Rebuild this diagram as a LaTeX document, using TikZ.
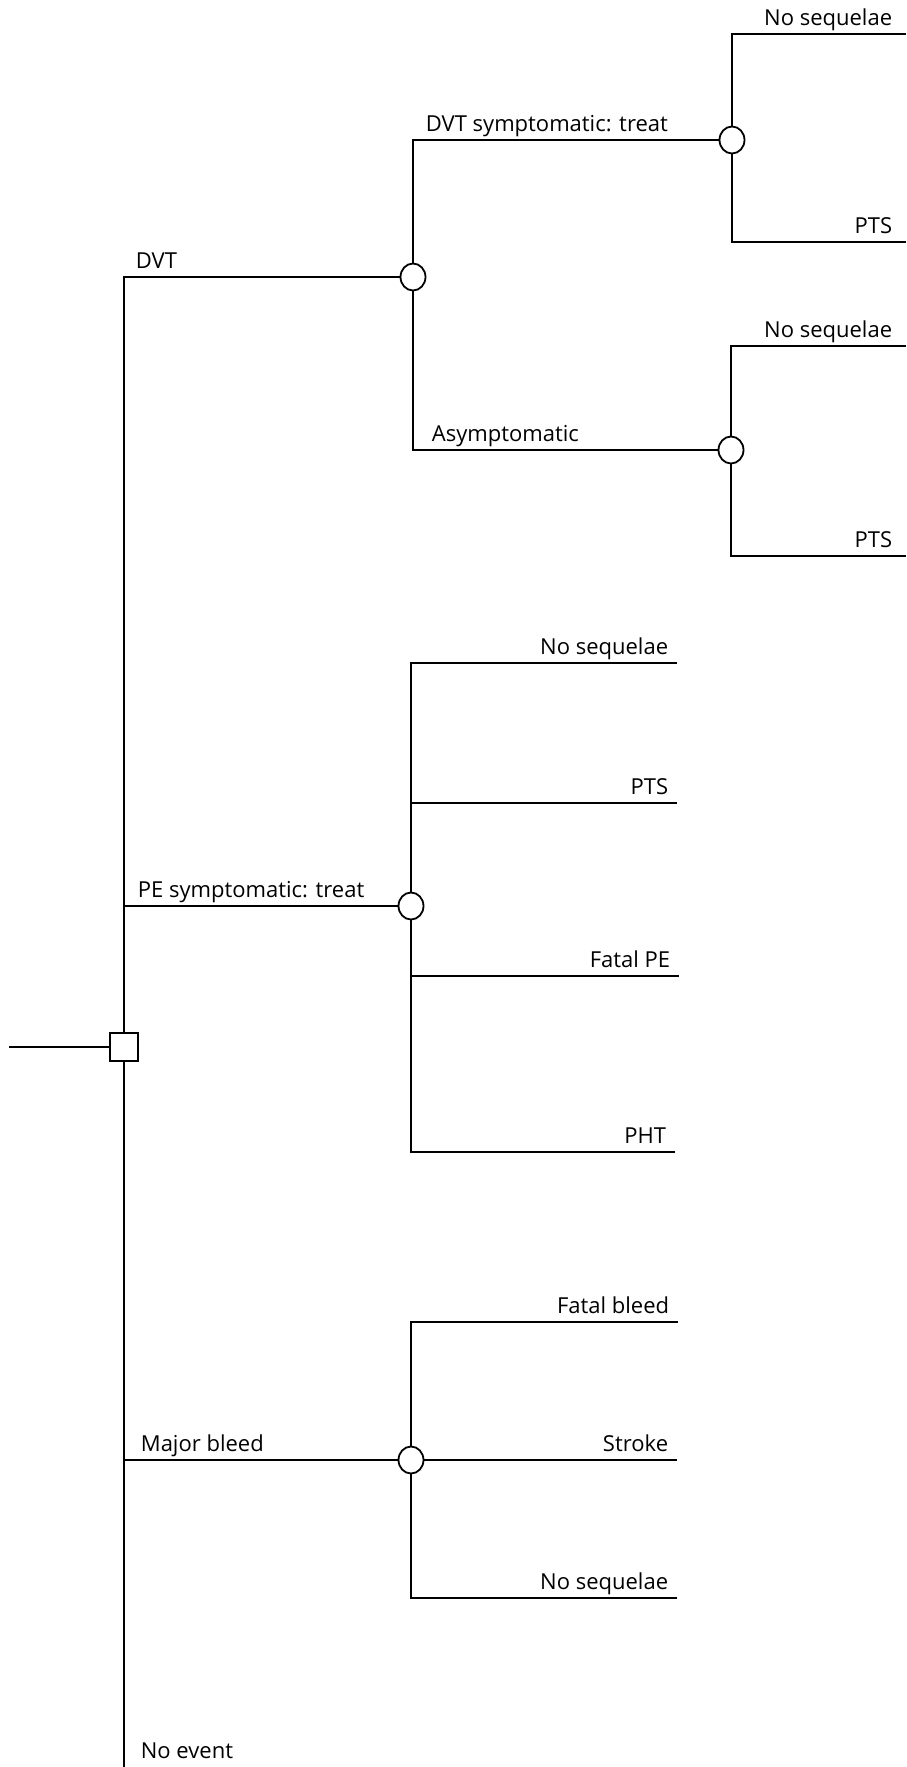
\documentclass[tikz,border=0pt]{standalone}
\usepackage{fontspec}
\setmainfont{Open Sans}
\usetikzlibrary{shapes.geometric}

\begin{document}
\begin{tikzpicture}[x=1pt,y=-1pt,line width=1.8pt,font=\fontsize{22}{26}\selectfont]

	\tikzset{node choice/.style={rectangle, draw, fill=white,
			minimum size=28pt, inner sep=0pt}}
	\tikzset{node chance/.style={ellipse, draw, fill=white,
			minimum width=25pt, minimum height=27pt, inner sep=0pt}}
	\tikzset{lbl branch/.style={anchor=base west, inner sep=0pt,
			pos=0.5, xshift=12pt, yshift=9pt}}
	\tikzset{lbl leaf/.style={anchor=base east, inner sep=0pt,
			xshift=-8pt, yshift=9pt}}

	\useasboundingbox (0,0) rectangle (906,1767);

	% decision node and chance nodes
	\coordinate (R) at (9,1047);
	\node[node choice] (D) at (124,1047) {};
	\node[node chance] (DVT) at (413,277) {};
	\node[node chance] (DVTs) at (732,140) {};
	\node[node chance] (DVTa) at (731,450) {};
	\node[node chance] (PE) at (411,906) {};
	\node[node chance] (MB) at (411,1460) {};
	\coordinate (NE) at (124,1767);

	% terminal ends
	\coordinate (DVTs1) at (906,34);
	\coordinate (DVTs2) at (906,242);
	\coordinate (DVTa1) at (906,346);
	\coordinate (DVTa2) at (906,556);
	\coordinate (PE1) at (677,663);
	\coordinate (PE2) at (677,803);
	\coordinate (PE3) at (679,976);
	\coordinate (PE4) at (675,1152);
	\coordinate (MB1) at (678,1322);
	\coordinate (MB2) at (677,1460);
	\coordinate (MB3) at (677,1598);

	\draw
	(R) -- (D)
	(D) |- (DVT)	node[lbl branch, xshift=-1pt] {DVT}
	(D) |- (PE)	node[lbl branch, xshift=1pt] {PE symptomatic: treat}
	(D) |- (MB)	node[lbl branch, xshift=4pt] {Major bleed}
	(D) -- (NE)	node[anchor=base west, inner sep=0pt, xshift=16pt, yshift=9pt] {No event};

	\draw
	(DVT) |- (DVTs)	node[lbl branch] {DVT symptomatic: treat}
	(DVT) |- (DVTa)	node[lbl branch, xshift=6pt] {Asymptomatic}
	(DVTs) |- (DVTs1)	node[lbl leaf, xshift=-5pt] {No sequelae}
	(DVTs) |- (DVTs2)	node[lbl leaf, xshift=-5pt] {PTS}
	(DVTa) |- (DVTa1)	node[lbl leaf, xshift=-5pt] {No sequelae}
	(DVTa) |- (DVTa2)	node[lbl leaf, xshift=-5pt] {PTS};

	\draw
	(PE) |- (PE1)	node[lbl leaf] {No sequelae}
	(PE) |- (PE2)	node[lbl leaf] {PTS}
	(PE) |- (PE3)	node[lbl leaf] {Fatal PE}
	(PE) |- (PE4)	node[lbl leaf] {PHT}
	(MB) |- (MB1)	node[lbl leaf] {Fatal bleed}
	(MB) -- (MB2)	node[lbl leaf] {Stroke}
	(MB) |- (MB3)	node[lbl leaf] {No sequelae};
\end{tikzpicture}
\end{document}
